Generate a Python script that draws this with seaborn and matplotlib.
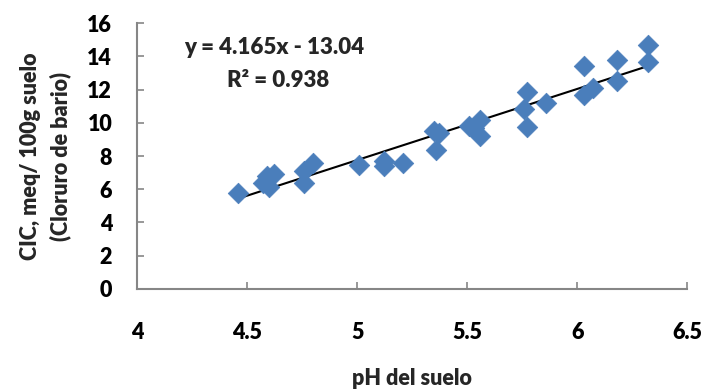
import matplotlib
matplotlib.use("Agg")
import matplotlib.pyplot as plt
import seaborn as sns
import pandas as pd

ph = [4.46, 4.59, 4.62, 4.57, 4.60, 4.76, 4.80, 4.76, 5.01, 5.12, 5.12, 5.21,
      5.36, 5.35, 5.37, 5.51, 5.53, 5.56, 5.56, 5.77, 5.76, 5.77, 5.86,
      6.03, 6.03, 6.07, 6.18, 6.18, 6.32, 6.32]
cic = [5.78, 6.81, 6.93, 6.37, 6.16, 7.07, 7.57, 6.37, 7.47, 7.67, 7.37, 7.57,
       8.37, 9.50, 9.40, 9.78, 9.70, 10.14, 9.22, 11.83, 10.83, 9.74, 11.22,
       13.39, 11.69, 12.09, 13.80, 12.49, 14.70, 13.66]
x_ticks = [4, 4.5, 5, 5.5, 6, 6.5]
x_tick_labels = ["4", "4.5", "5", "5.5", "6", "6.5"]
y_ticks = [0, 2, 4, 6, 8, 10, 12, 14, 16]
equation = "y = 4.165x - 13.04"
r2_text = "R² = 0.938"

df = pd.DataFrame({"ph": ph, "cic": cic})

sns.set_theme(style="white")
plt.rcParams["font.family"] = ["Lato", "DejaVu Sans"]
W = "heavy"
plt.rcParams["font.weight"] = W

fig = plt.figure(figsize=(7.04, 3.92), dpi=100)
ax = fig.add_axes([0.195, 0.263, 0.781, 0.678])

sns.regplot(data=df, x="ph", y="cic", scatter=False, ci=None, truncate=True,
            color="black", line_kws={"linewidth": 1.5}, ax=ax)
sns.scatterplot(data=df, x="ph", y="cic", marker="D", s=110, color="#4A7EBB",
                edgecolor="#4A7EBB", linewidth=0.5, ax=ax, zorder=3)

ax.set_xlim(4, 6.5)
ax.set_ylim(0, 16)
ax.set_xticks(x_ticks)
ax.set_xticklabels(x_tick_labels)
ax.set_yticks(y_ticks)

for s in ["top", "right"]:
    ax.spines[s].set_visible(False)
for s in ["left", "bottom"]:
    ax.spines[s].set_color("#868686")
    ax.spines[s].set_linewidth(1.5)

ax.tick_params(axis="both", direction="in", length=5, width=1.2, color="#868686",
               labelsize=15.5, labelcolor="black")
ax.tick_params(axis="x", pad=24, bottom=True)
ax.tick_params(axis="y", pad=18, left=True)
for lab in ax.get_xticklabels() + ax.get_yticklabels():
    lab.set_fontweight(W)

ax.set_xlabel("pH del suelo", fontsize=15.5, fontweight=W, labelpad=18)
ax.set_ylabel("CIC, meq/ 100g suelo\n(Cloruro de bario)", fontsize=15.5,
              fontweight=W, labelpad=12, linespacing=1.45)

ax.text(0.249, 0.91, equation, transform=ax.transAxes, ha="center", va="center",
        fontsize=16, fontweight=W)
ax.text(0.256, 0.786, r2_text, transform=ax.transAxes, ha="center", va="center",
        fontsize=16, fontweight=W)

fig.savefig("out.png", dpi=100)
